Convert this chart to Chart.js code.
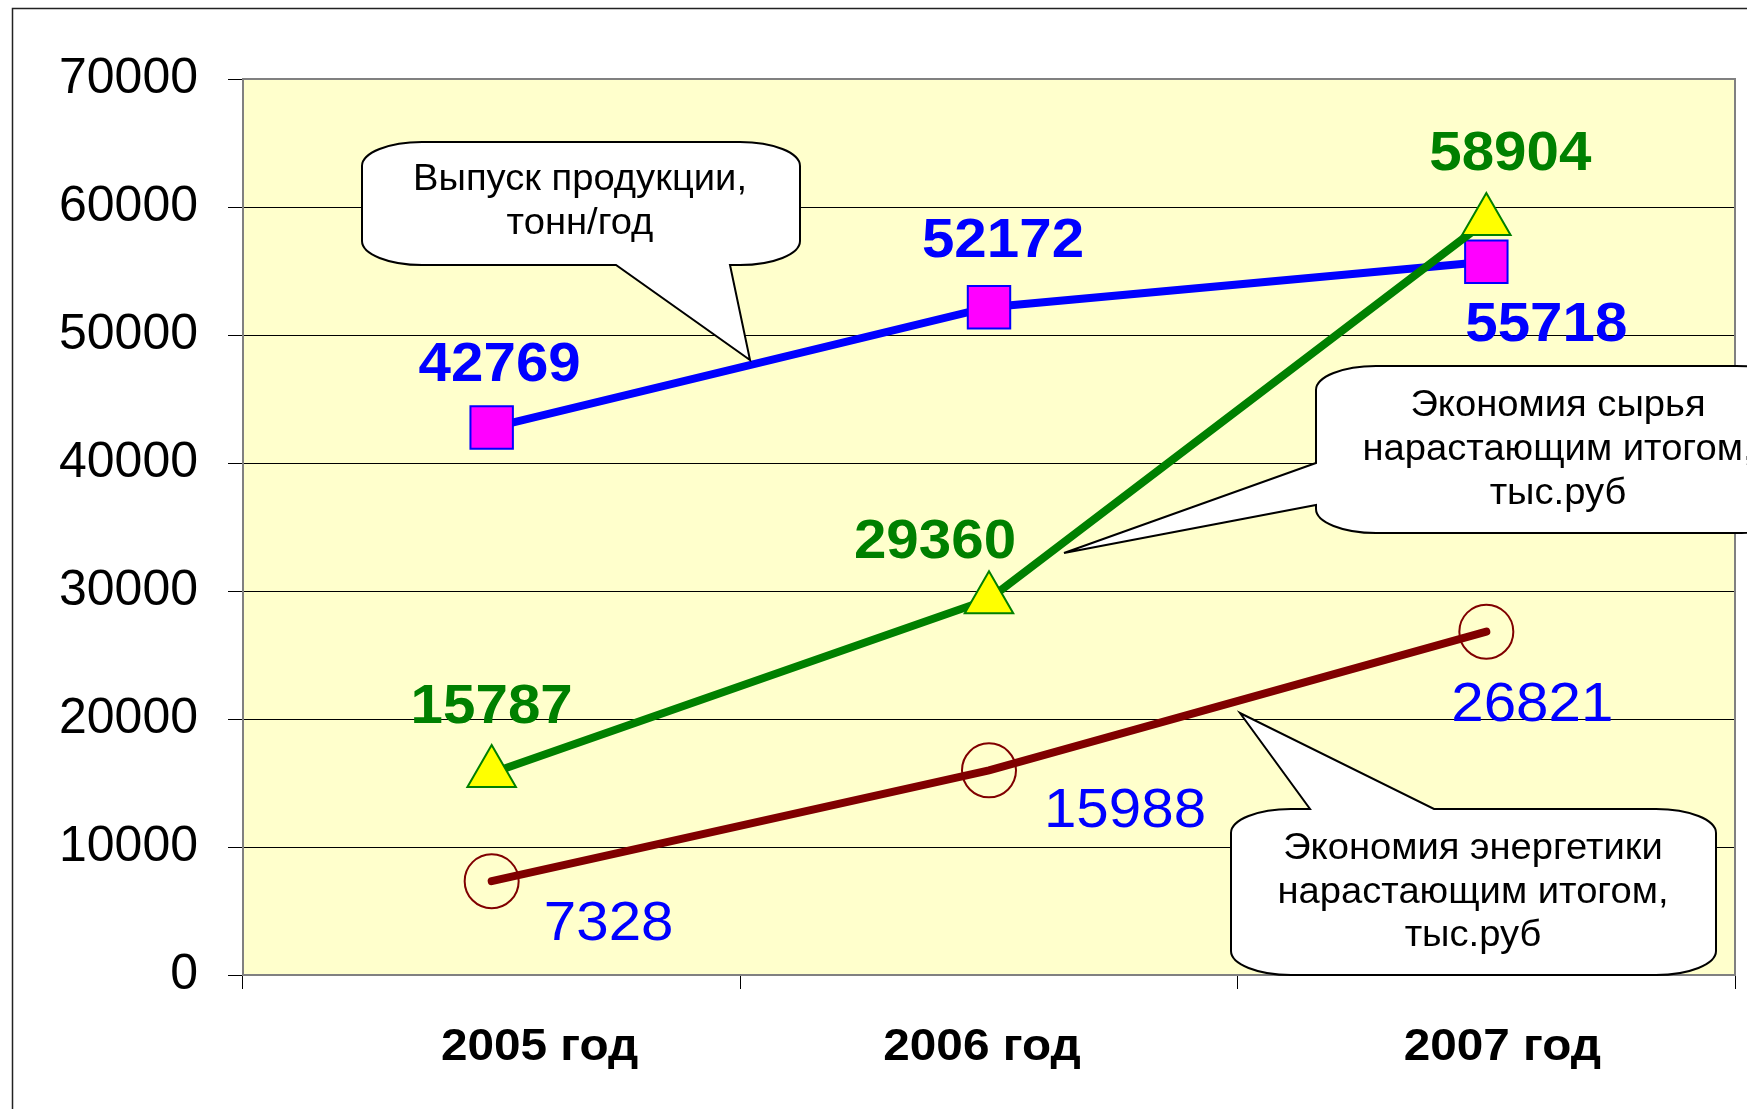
<!DOCTYPE html>
<html>
<head>
<meta charset="utf-8">
<script src="https://cdn.jsdelivr.net/npm/chart.js@4"></script>
<style>
  body { margin: 0; background: #fff; }
</style>
</head>
<body>
<canvas id="chart" width="1747" height="1109"></canvas>
<script>
// Data
const categories = ['2005 год', '2006 год', '2007 год'];
const outputTons = [42769, 52172, 55718];      // Выпуск продукции, тонн/год
const rawSavings = [15787, 29360, 58904];      // Экономия сырья, тыс.руб
const energySavings = [7328, 15988, 26821];    // Экономия энергетики, тыс.руб
const yMin = 0;
const yMax = 70000;
const yStep = 10000;

const FONT = "'Liberation Sans', Arial, sans-serif";
const STRETCH = 1.06; // the original text is a bit wider than plain Arial

// value labels: colour, weight and shift from the point (px)
const labelStyle = [
	{ color: '#0000FF', weight: 'bold', offsets: [[8, -62], [14, -65], [60, 64]] },
	{ color: '#008000', weight: 'bold', offsets: [[0, -65], [-54, -56], [24, -66]] },
	{ color: '#0000FF', weight: 'normal', offsets: [[117, 44], [136, 41], [46, 74]] },
];

// category labels are shifted a bit in the original
const xLabelShift = [48, -7, 16];

// speech bubbles
const callouts = [
	{ lines: ['Выпуск продукции,', 'тонн/год'], box: [362, 142, 438, 123], textX: 580, textY: [180, 224],
	  edge: 'bottom', base: [616, 730], tip: [750, 360] },
	{ lines: ['Экономия сырья', 'нарастающим итогом,', 'тыс.руб'], box: [1316, 366, 480, 167], textX: 1558, textY: [406, 450, 494],
	  edge: 'left', base: [463, 505], tip: [1064, 553] },
	{ lines: ['Экономия энергетики', 'нарастающим итогом,', 'тыс.руб'], box: [1231, 809, 485, 166], textX: 1473, textY: [849, 893, 936],
	  edge: 'top', base: [1310, 1434], tip: [1240, 713] },
];

function wideText(ctx, text, x, y) {
	ctx.save();
	ctx.translate(x, y);
	ctx.scale(STRETCH, 1);
	ctx.fillText(text, 0, 0);
	ctx.restore();
}

function calloutPath(ctx, c) {
	const [x, y, w, h] = c.box;
	const rx = 60, ry = 24;
	const [a, b] = c.base;
	const [tx, ty] = c.tip;
	ctx.beginPath();
	ctx.moveTo(x + rx, y);
	if (c.edge === 'top') {
		ctx.lineTo(a, y);
		ctx.lineTo(tx, ty);
		ctx.lineTo(b, y);
	}
	ctx.lineTo(x + w - rx, y);
	ctx.ellipse(x + w - rx, y + ry, rx, ry, 0, -Math.PI / 2, 0);
	ctx.lineTo(x + w, y + h - ry);
	ctx.ellipse(x + w - rx, y + h - ry, rx, ry, 0, 0, Math.PI / 2);
	if (c.edge === 'bottom') {
		ctx.lineTo(b, y + h);
		ctx.lineTo(tx, ty);
		ctx.lineTo(a, y + h);
	}
	ctx.lineTo(x + rx, y + h);
	ctx.ellipse(x + rx, y + h - ry, rx, ry, 0, Math.PI / 2, Math.PI);
	if (c.edge === 'left') {
		ctx.lineTo(x, b);
		ctx.lineTo(tx, ty);
		ctx.lineTo(x, a);
	}
	ctx.lineTo(x, y + ry);
	ctx.ellipse(x + rx, y + ry, rx, ry, 0, Math.PI, Math.PI * 1.5);
	ctx.closePath();
}

const decorPlugin = {
	id: 'decor',
	beforeDraw(chart) {
		const ctx = chart.ctx;
		const a = chart.chartArea;
		ctx.save();
		ctx.fillStyle = '#fff';
		ctx.fillRect(0, 0, chart.width, chart.height);
		ctx.strokeStyle = '#222';
		ctx.lineWidth = 1.5;
		ctx.strokeRect(12.5, 8.5, 1800, 1200);
		ctx.fillStyle = '#FFFFCC';
		ctx.fillRect(a.left, a.top, a.right - a.left, a.bottom - a.top);
		ctx.restore();
	},
	beforeDatasetsDraw(chart) {
		const ctx = chart.ctx;
		const a = chart.chartArea;
		ctx.save();
		ctx.strokeStyle = '#808080';
		ctx.lineWidth = 2;
		ctx.strokeRect(a.left, a.top, a.right - a.left, a.bottom - a.top);
		ctx.restore();
	},
	afterDraw(chart) {
		const ctx = chart.ctx;
		ctx.save();
		ctx.textAlign = 'center';
		ctx.textBaseline = 'middle';

		// bubbles
		callouts.forEach(c => {
			calloutPath(ctx, c);
			ctx.fillStyle = '#fff';
			ctx.fill();
			ctx.strokeStyle = '#000';
			ctx.lineWidth = 2;
			ctx.stroke();
			ctx.fillStyle = '#000';
			ctx.font = '36px ' + FONT;
			c.lines.forEach((line, i) => wideText(ctx, line, c.textX, c.textY[i]));
		});

		// value labels
		chart.data.datasets.forEach((ds, di) => {
			const meta = chart.getDatasetMeta(di);
			const st = labelStyle[di];
			ctx.fillStyle = st.color;
			ctx.font = st.weight + ' 55px ' + FONT;
			meta.data.forEach((pt, i) => {
				const [dx, dy] = st.offsets[i];
				wideText(ctx, String(ds.data[i]), pt.x + dx, pt.y + dy);
			});
		});

		// category labels
		const xs = chart.scales.x;
		ctx.fillStyle = '#000';
		ctx.font = 'bold 45px ' + FONT;
		categories.forEach((cat, i) => {
			wideText(ctx, cat, xs.getPixelForValue(i) + xLabelShift[i], chart.chartArea.bottom + 73);
		});
		ctx.restore();
	},
};

new Chart(document.getElementById('chart').getContext('2d'), {
	type: 'line',
	data: {
		labels: categories,
		datasets: [
			{
				label: 'Выпуск продукции, тонн/год',
				data: outputTons,
				borderColor: '#0000FF',
				borderWidth: 8,
				pointStyle: 'rect',
				pointRadius: 30,
				pointBackgroundColor: '#FF00FF',
				pointBorderColor: '#0000FF',
				pointBorderWidth: 2,
				order: 1,
			},
			{
				label: 'Экономия сырья нарастающим итогом, тыс.руб',
				data: rawSavings,
				borderColor: '#008000',
				borderWidth: 8,
				pointStyle: 'triangle',
				pointRadius: 28,
				pointBackgroundColor: '#FFFF00',
				pointBorderColor: '#008000',
				pointBorderWidth: 2,
				order: 0,
			},
			{
				label: 'Экономия энергетики нарастающим итогом, тыс.руб',
				data: energySavings,
				borderColor: '#800000',
				borderWidth: 8,
				borderCapStyle: 'round',
				pointStyle: 'circle',
				pointRadius: 27,
				pointBackgroundColor: 'rgba(0,0,0,0)',
				pointBorderColor: '#800000',
				pointBorderWidth: 2,
				order: 2,
			},
		],
	},
	options: {
		responsive: false,
		animation: false,
		devicePixelRatio: 1,
		tension: 0,
		layout: { autoPadding: false, padding: { top: 79, right: 12, left: 0, bottom: 0 } },
		plugins: {
			legend: { display: false },
			tooltip: { enabled: false },
		},
		scales: {
			x: {
				offset: true,
				grid: { offset: true, drawOnChartArea: false, drawTicks: true, tickLength: 14, color: '#000', lineWidth: 1 },
				border: { display: false },
				ticks: { display: false },
				afterFit(s) { s.height = 134; },
			},
			y: {
				min: yMin,
				max: yMax,
				grid: { color: '#000', lineWidth: 1, tickLength: 15 },
				border: { display: false },
				ticks: {
					stepSize: yStep,
					color: '#000',
					padding: 30,
					font: { family: FONT, size: 50 },
					callback: v => String(v),
				},
				afterFit(s) { s.width = 243; },
			},
		},
	},
	plugins: [decorPlugin],
});
</script>
</body>
</html>
